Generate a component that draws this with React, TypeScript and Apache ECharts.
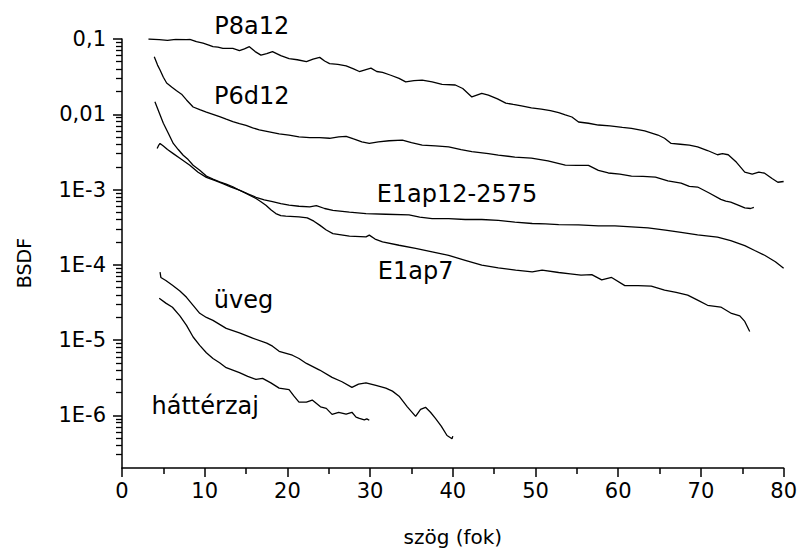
import React, { useEffect, useRef } from "react";
import * as echarts from "echarts";

// ---- data (x: szög in degrees, y: BSDF) ----
const P8A12: [number, number][] = [
  [3.2, 0.1], [4.5, 0.098], [5.5, 0.096], [6.5, 0.099], [7.8, 0.098], [8.2, 0.099], [9.0, 0.092], [9.8, 0.088],
  [10.5, 0.083], [11.0, 0.079], [11.6, 0.078], [12.2, 0.075], [13.4, 0.075], [14.2, 0.07], [14.8, 0.074], [15.4, 0.079],
  [16.1, 0.068], [16.8, 0.061], [17.5, 0.064], [18.2, 0.068], [19.2, 0.06], [20.2, 0.055], [21.2, 0.053], [22.3, 0.05],
  [23.1, 0.054], [23.9, 0.057], [24.5, 0.051], [25.1, 0.047], [26.1, 0.046], [27.1, 0.044], [28.0, 0.04], [28.7, 0.037],
  [29.4, 0.039], [30.1, 0.041], [30.8, 0.037], [31.5, 0.036], [32.5, 0.033], [33.5, 0.03], [34.3, 0.027], [35.3, 0.028],
  [36.3, 0.0285], [37.5, 0.027], [38.7, 0.025], [40.3, 0.0245], [41.2, 0.022], [42.3, 0.017], [43.5, 0.019], [44.3, 0.018],
  [45.4, 0.016], [46.4, 0.0141], [47.3, 0.0135], [48.3, 0.0129], [49.5, 0.0122], [50.7, 0.0117], [51.8, 0.0112], [52.8, 0.0105],
  [53.6, 0.0098], [54.4, 0.0092], [55.2, 0.0079], [56.4, 0.0076], [57.6, 0.0072], [59.0, 0.007], [60.5, 0.0067], [61.6, 0.0065],
  [63.2, 0.006], [64.8, 0.0053], [65.6, 0.0048], [66.4, 0.0041], [67.5, 0.004], [68.6, 0.0039], [69.6, 0.0037], [70.8, 0.0033],
  [72.0, 0.0029], [72.6, 0.003], [73.3, 0.0029], [74.3, 0.0023], [75.3, 0.0017], [76.2, 0.0016], [77.0, 0.0017], [77.7, 0.00165],
  [78.6, 0.0014], [79.3, 0.00125], [80.0, 0.00128],
];

const P6D12: [number, number][] = [
  [3.9, 0.058], [4.3, 0.045], [4.6, 0.0387], [5.0, 0.031], [5.4, 0.026], [6.0, 0.023], [6.6, 0.0205], [7.2, 0.0185],
  [7.8, 0.0155], [8.6, 0.0125], [9.4, 0.0115], [10.2, 0.0107], [11.0, 0.01], [11.8, 0.0093], [12.6, 0.0086], [13.4, 0.008],
  [14.2, 0.0075], [15.0, 0.0071], [15.8, 0.0066], [16.6, 0.0062], [17.8, 0.00585], [19.0, 0.0055], [20.2, 0.0053], [21.4, 0.005],
  [22.7, 0.0049], [23.9, 0.0049], [25.1, 0.0048], [26.2, 0.005], [27.1, 0.0051], [28.0, 0.0047], [29.0, 0.0043], [29.9, 0.0041],
  [31.0, 0.0043], [32.3, 0.00445], [33.9, 0.00454], [35.0, 0.0042], [36.3, 0.0039], [37.9, 0.0038], [39.5, 0.0037], [41.0, 0.0034],
  [42.3, 0.0032], [44.3, 0.003], [45.5, 0.00287], [47.5, 0.0027], [49.5, 0.00262], [51.5, 0.0024], [53.6, 0.00211], [55.0, 0.0021],
  [56.4, 0.0021], [57.6, 0.0018], [58.8, 0.00166], [60.2, 0.0016], [61.6, 0.00151], [63.0, 0.0015], [64.5, 0.00146], [66.0, 0.0013],
  [67.6, 0.00122], [68.6, 0.0011], [69.6, 0.00108], [71.0, 0.0009], [72.4, 0.00074], [73.0, 0.0007], [73.6, 0.00068], [74.5, 0.00062],
  [75.3, 0.00057], [76.0, 0.00056], [76.4, 0.00058],
];

const E1AP12_2575: [number, number][] = [
  [4.25, 0.0035], [4.45, 0.0039], [4.6, 0.0041], [5.0, 0.0038], [5.5, 0.0034], [6.2, 0.003], [7.0, 0.0026], [8.2, 0.0021],
  [9.2, 0.0017], [10.2, 0.00145], [11.2, 0.00132], [12.2, 0.0012], [13.2, 0.00108], [14.2, 0.00098], [15.2, 0.00088], [16.2, 0.00079],
  [17.2, 0.00073], [18.2, 0.00069], [19.2, 0.00065], [20.2, 0.00062], [21.4, 0.0006], [22.7, 0.00059], [23.5, 0.00061], [24.5, 0.00056],
  [25.5, 0.00053], [27.5, 0.0005], [29.5, 0.00048], [31.9, 0.00047], [34.7, 0.00046], [36.0, 0.00043], [37.5, 0.00041], [39.5, 0.00041],
  [41.5, 0.0004], [43.5, 0.0004], [45.5, 0.00039], [47.5, 0.00037], [49.6, 0.000354], [51.2, 0.00035], [52.8, 0.000343], [55.2, 0.00034],
  [57.6, 0.00033], [59.6, 0.00033], [61.6, 0.00032], [63.6, 0.00031], [65.7, 0.00029], [67.6, 0.00027], [69.6, 0.00025], [72.0, 0.000233],
  [73.6, 0.00021], [75.3, 0.00018], [76.5, 0.000155], [77.7, 0.000134], [79.0, 0.00011], [80.0, 0.00009],
];

const E1AP7: [number, number][] = [
  [3.98, 0.0147], [4.5, 0.0105], [5.0, 0.0076], [5.6, 0.0056], [6.2, 0.0041], [6.8, 0.0034], [7.4, 0.00286], [8.0, 0.0025],
  [8.6, 0.0021], [9.4, 0.0018], [10.2, 0.00151], [11.0, 0.00138], [11.8, 0.00127], [12.6, 0.00118], [13.4, 0.00109], [14.2, 0.00098],
  [15.0, 0.00089], [15.6, 0.00082], [16.2, 0.00076], [16.8, 0.00069], [17.4, 0.00062], [18.0, 0.00054], [18.6, 0.00048], [19.2, 0.00045],
  [19.8, 0.000443], [21.4, 0.000433], [22.4, 0.00042], [23.2, 0.00038], [23.9, 0.000337], [24.7, 0.00029], [25.5, 0.00026], [26.5, 0.00025],
  [27.5, 0.00024], [29.5, 0.000235], [29.9, 0.000248], [30.6, 0.00022], [31.5, 0.000202], [33.5, 0.000182], [35.5, 0.000165], [37.5, 0.000149],
  [39.5, 0.000134], [41.5, 0.000115], [43.5, 0.0000988], [45.5, 0.000091], [47.6, 0.0000848], [49.6, 0.0000805], [50.8, 0.0000848], [52.8, 0.0000791],
  [54.2, 0.000076], [55.5, 0.000073], [56.8, 0.000074], [58.0, 0.000063], [59.2, 0.000068], [60.8, 0.000053], [62.4, 0.000053], [64.0, 0.000052],
  [65.6, 0.000046], [67.0, 0.000043], [68.4, 0.0000395], [69.6, 0.000034], [70.8, 0.000029], [72.4, 0.0000275], [73.7, 0.0000226], [74.7, 0.000021],
  [75.3, 0.0000177], [75.9, 0.000013],
];

const UVEG: [number, number][] = [
  [4.6, 0.00008], [4.7, 0.000068], [5.3, 0.000062], [6.1, 0.0000535], [7.0, 0.000045], [7.8, 0.000037], [8.6, 0.000029], [9.4, 0.0000227],
  [10.2, 0.00002], [11.0, 0.0000183], [11.8, 0.0000162], [12.6, 0.0000143], [14.2, 0.0000125], [15.8, 0.0000106], [17.5, 0.0000091], [18.2, 0.0000083],
  [19.0, 0.0000071], [20.6, 0.0000063], [21.4, 0.0000057], [22.3, 0.0000049], [23.9, 0.000004], [25.4, 0.0000032], [26.6, 0.0000028], [27.8, 0.00000236],
  [28.6, 0.0000026], [29.5, 0.0000027], [30.7, 0.0000025], [31.9, 0.0000023], [32.7, 0.0000021], [33.5, 0.0000018], [34.5, 0.0000013], [35.5, 0.00000097],
  [36.1, 0.0000012], [36.7, 0.00000128], [37.3, 0.0000011], [37.9, 0.00000091], [38.6, 0.00000072], [39.3, 0.00000054], [39.9, 0.00000049], [40.0, 0.00000053],
];

const HATTERZAJ: [number, number][] = [
  [4.5, 0.000036], [5.3, 0.000031], [6.1, 0.0000273], [7.0, 0.000021], [7.8, 0.0000157], [8.6, 0.000011], [9.4, 0.0000085], [10.2, 0.0000068],
  [11.0, 0.0000057], [11.8, 0.000005], [12.6, 0.0000043], [14.2, 0.0000037], [15.2, 0.0000033], [16.2, 0.000003], [17.0, 0.0000031], [18.0, 0.0000027],
  [19.0, 0.0000023], [20.2, 0.0000022], [20.8, 0.0000018], [21.4, 0.0000015], [22.3, 0.0000015], [23.0, 0.0000016], [24.0, 0.0000013], [24.7, 0.00000124],
  [25.4, 0.00000103], [26.2, 0.0000011], [27.1, 0.00000104], [27.8, 0.0000011], [28.3, 0.00000095], [28.7, 0.00000091], [29.3, 0.00000087], [29.6, 0.0000009],
  [29.9, 0.00000086],
];

const SERIES_NAMES = ["P8a12", "P6d12", "E1ap12-2575", "E1ap7", "üveg", "háttérzaj"];
const SERIES_DATA = [P8A12, P6D12, E1AP12_2575, E1AP7, UVEG, HATTERZAJ];

// curve labels (placed in data coordinates)
const LABEL_TEXTS = ["P8a12", "P6d12", "E1ap12-2575", "E1ap7", "üveg", "háttérzaj"];
const LABEL_X = [15.7, 15.7, 40.5, 35.5, 14.7, 10.06];
const LABEL_Y = [0.149, 0.0175, 0.00087, 0.000082, 0.0000346, 0.00000135];

// axes
const X_MIN = 0;
const X_MAX = 80;
const X_INTERVAL = 10;
const Y_MIN = 2e-7;
const Y_MAX = 0.1;
const Y_TICKS = [1e-6, 1e-5, 1e-4, 1e-3, 0.01, 0.1];
const Y_TICK_LABELS = ["1E-6", "1E-5", "1E-4", "1E-3", "0,01", "0,1"];
const X_NAME = "szög (fok)";
const Y_NAME = "BSDF";

const MINOR_TICKS: number[] = [];
for (let e = -7; e <= -2; e++) {
  for (let k = 2; k <= 9; k++) {
    const v = k * Math.pow(10, e);
    if (v > Y_MIN * 1.0001 && v < Y_MAX) MINOR_TICKS.push(v);
  }
}

const FONT = "DejaVu Sans";

export default function App() {
  const ref = useRef<HTMLDivElement>(null);
  useEffect(() => {
    if (!ref.current) return;
    const chart = echarts.init(ref.current, null, { renderer: "svg" });
    const lineCol = "#000";
    const option: any = {
      animation: false,
      backgroundColor: "#fff",
      grid: { left: 122, right: 14, top: 39, bottom: 84, containLabel: false },
      xAxis: {
        type: "value",
        min: X_MIN,
        max: X_MAX,
        interval: X_INTERVAL,
        name: X_NAME,
        nameLocation: "middle",
        nameGap: 59,
        nameTextStyle: { fontFamily: FONT, fontSize: 20, color: "#000" },
        axisLine: { show: true, onZero: false, lineStyle: { color: lineCol, width: 1.5 } },
        axisTick: { show: true, length: 9, lineStyle: { color: lineCol, width: 1.5 } },
        minorTick: { show: true, splitNumber: 2, length: 6, lineStyle: { color: lineCol, width: 1.5 } },
        splitLine: { show: false },
        axisLabel: { fontFamily: FONT, fontSize: 21, color: "#000", margin: 12 },
      },
      yAxis: [
        {
          type: "log",
          logBase: 10,
          min: Y_MIN,
          max: Y_MAX,
          axisLine: { show: true, lineStyle: { color: lineCol, width: 1.5 } },
          axisTick: { show: true, length: 9, customValues: Y_TICKS, lineStyle: { color: lineCol, width: 1.5 } },
          splitLine: { show: false },
          axisLabel: {
            show: true,
            customValues: Y_TICKS,
            fontFamily: FONT,
            fontSize: 21,
            color: "#000",
            margin: 16,
            formatter: (v: number) => {
              const i = Y_TICKS.findIndex((t) => Math.abs(Math.log10(t) - Math.log10(v)) < 0.01);
              return i >= 0 ? Y_TICK_LABELS[i] : "";
            },
          },
        },
        {
          type: "log",
          logBase: 10,
          min: Y_MIN,
          max: Y_MAX,
          position: "left",
          axisLine: { show: false },
          axisTick: { show: true, length: 6, customValues: MINOR_TICKS, lineStyle: { color: lineCol, width: 1.3 } },
          axisLabel: { show: false },
          splitLine: { show: false },
        },
      ],
      series: SERIES_DATA.map((d, i) => ({
        type: "line",
        name: SERIES_NAMES[i],
        data: d,
        showSymbol: false,
        symbol: "none",
        lineStyle: { color: "#000", width: 1.3 },
        xAxisIndex: 0,
        yAxisIndex: 0,
        silent: true,
      })),
    };
    chart.setOption(option);

    const graphics: any[] = LABEL_TEXTS.map((t, i) => {
      const p = chart.convertToPixel({ xAxisIndex: 0, yAxisIndex: 0 }, [LABEL_X[i], LABEL_Y[i]]) as number[];
      return {
        type: "text",
        x: p[0],
        y: p[1],
        style: {
          text: t,
          fontFamily: FONT,
          fontSize: 24,
          fill: "#000",
          align: "center",
          verticalAlign: "middle",
        },
      };
    });
    graphics.push({
      type: "text",
      x: 24,
      y: 263,
      rotation: Math.PI / 2,
      style: {
        text: Y_NAME,
        fontFamily: FONT,
        fontSize: 19,
        fill: "#000",
        align: "center",
        verticalAlign: "middle",
      },
    });
    chart.setOption({ graphic: graphics });

    return () => chart.dispose();
  }, []);

  return (
    <div
      ref={ref}
      style={{ position: "absolute", left: 0, top: 0, width: 800, height: 552, background: "#fff" }}
    />
  );
}
